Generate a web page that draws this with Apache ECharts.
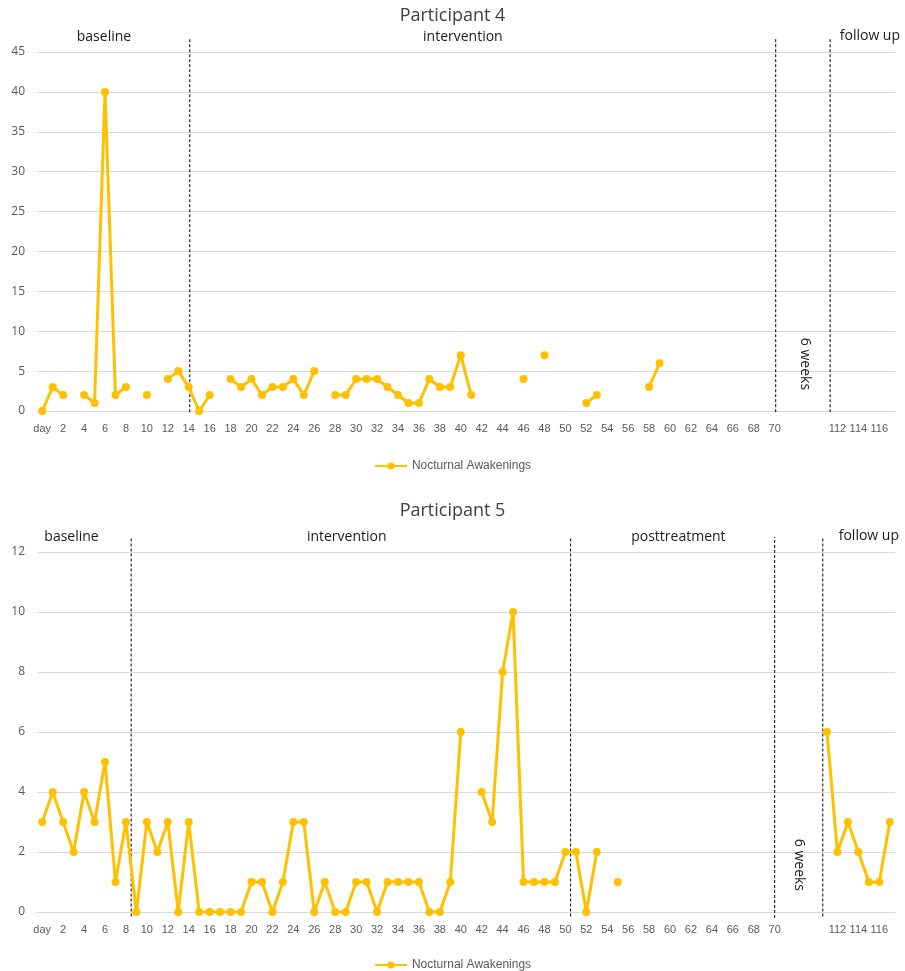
<!DOCTYPE html>
<html><head><meta charset="utf-8">
<script src="https://cdn.jsdelivr.net/npm/echarts@6/dist/echarts.min.js"></script>
<style>html,body{margin:0;padding:0;background:#fff}#c{width:905px;height:971px}</style>
</head><body><div id="c"></div>
<script>
// x categories: "day", days 1..70, four blank slots (6 weeks gap), follow-up days 111..117
const categories = ['day','1','2','3','4','5','6','7','8','9','10','11','12','13','14','15','16','17','18','19','20',
  '21','22','23','24','25','26','27','28','29','30','31','32','33','34','35','36','37','38','39','40',
  '41','42','43','44','45','46','47','48','49','50','51','52','53','54','55','56','57','58','59','60',
  '61','62','63','64','65','66','67','68','69','70','','','','','111','112','113','114','115','116','117'];

const p4Values = [0,3,2,null,2,1,40,2,3,null,2,null,4,5,3,0,2,null,4,3,4,2,3,3,4,2,5,null,2,2,
  4,4,4,3,2,1,1,4,3,3,7,2,null,null,null,null,4,null,7,null,null,null,1,2,null,null,null,null,3,6,
  null,null,null,null,null,null,null,null,null,null,null,null,null,null,null,null,null,null,null,null,null,null];

const p5Values = [3,4,3,2,4,3,5,1,3,0,3,2,3,0,3,0,0,0,0,0,1,1,0,1,3,3,0,1,0,0,
  1,1,0,1,1,1,1,0,0,1,6,null,4,3,8,10,1,1,1,1,2,2,0,2,null,1,
  null,null,null,null,null,null,null,null,null,null,null,null,null,null,null,null,null,null,null,
  6,2,3,2,1,1,3];

const p4YTicks = {min: 0, max: 45, interval: 5};
const p5YTicks = {min: 0, max: 12, interval: 2};

// phase separators (category position) with vertical extent in data units
const p4PhaseLines = [[14.1, -0.15, 46.8], [70.1, -0.15, 46.8], [75.3, -0.15, 46.8]];
const p5PhaseLines = [[8.5, -0.15, 12.5], [50.5, -0.15, 12.5], [70.0, -0.2, 12.5], [74.6, -0.15, 12.5]];

// phase labels: [category position, y value]
const p4LabelPos = [[5.9, 46.9], [40.2, 46.9], [79.1, 47.0], [72.9, 5.9]];
const p4LabelText = ['baseline', 'intervention', 'follow up', '6 weeks'];
const p4LabelRot = [0, 0, 0, -90];
const p5LabelPos = [[2.8, 12.5], [29.1, 12.5], [60.8, 12.5], [79.0, 12.52], [72.3, 1.57]];
const p5LabelText = ['baseline', 'intervention', 'posttreatment', 'follow up', '6 weeks'];
const p5LabelRot = [0, 0, 0, 0, -90];

const LINE_COLOR = '#FFC000';
const SERIES_NAME = 'Nocturnal Awakenings';

function lineRender(params, api) {
  const x = api.value(0);
  const p1 = api.coord([x, api.value(1)]);
  const p2 = api.coord([x, api.value(2)]);
  return {type: 'line', shape: {x1: p1[0], y1: p1[1], x2: p2[0], y2: p2[1]},
    style: {stroke: '#000', lineWidth: 1, lineDash: [3, 2]}};
}
function labelRender(texts, rots) {
  return function (params, api) {
    const p = api.coord([api.value(0), api.value(1)]);
    return {type: 'text', x: p[0], y: p[1], rotation: rots[params.dataIndex] * Math.PI / 180,
      style: {text: texts[params.dataIndex], fill: '#1a1a1a', fontSize: 14, fontFamily: 'Open Sans',
        align: 'center', verticalAlign: 'middle'}};
  };
}

const catAxis = (gi) => ({
  type: 'category', gridIndex: gi, data: categories, boundaryGap: true,
  axisLine: {lineStyle: {color: '#d9d9d9', width: 1}}, axisTick: {show: false},
  axisLabel: {interval: 1, color: '#595959', fontSize: 11, margin: 12, fontFamily: 'Liberation Sans Narrow, Liberation Sans'}
});
const valAxis = (gi, t) => ({
  type: 'value', gridIndex: gi, min: t.min, max: t.max, interval: t.interval,
  axisLine: {show: false}, axisTick: {show: false},
  axisLabel: {color: '#595959', fontSize: 12, margin: 12, fontFamily: 'Open Sans'},
  splitLine: {lineStyle: {color: '#d9d9d9', width: 1}}
});
const posAxis = (gi) => ({type: 'value', gridIndex: gi, min: -0.5, max: 81.5, show: false});

const dataSeries = (gi, vals) => ({
  name: SERIES_NAME, type: 'line', xAxisIndex: gi, yAxisIndex: gi, data: vals,
  connectNulls: false, symbol: 'circle', symbolSize: 8, showSymbol: true, showAllSymbol: true,
  lineStyle: {width: 3, color: LINE_COLOR}, itemStyle: {color: LINE_COLOR}, z: 5
});

const chart = echarts.init(document.getElementById('c'), null, {renderer: 'canvas'});
chart.setOption({
  animation: false,
  backgroundColor: '#fff',
  title: [
    {text: 'Participant 4', left: 'center', top: 2, textStyle: {fontSize: 18, fontWeight: 'normal', color: '#404040', fontFamily: 'Open Sans'}},
    {text: 'Participant 5', left: 'center', top: 497, textStyle: {fontSize: 18, fontWeight: 'normal', color: '#404040', fontFamily: 'Open Sans'}}
  ],
  legend: [
    {data: [SERIES_NAME], top: 455, left: 'center', itemWidth: 32, itemHeight: 9, textStyle: {color: '#595959', fontSize: 12, fontFamily: 'Liberation Sans Narrow, Liberation Sans'}},
    {data: [SERIES_NAME], top: 954, left: 'center', itemWidth: 32, itemHeight: 9, textStyle: {color: '#595959', fontSize: 12, fontFamily: 'Liberation Sans Narrow, Liberation Sans'}}
  ],
  grid: [
    {left: 37, right: 10, top: 52, height: 359},
    {left: 37, right: 10, top: 552, height: 360}
  ],
  xAxis: [catAxis(0), catAxis(1), posAxis(0), posAxis(1)],
  yAxis: [valAxis(0, p4YTicks), valAxis(1, p5YTicks)],
  series: [
    dataSeries(0, p4Values),
    dataSeries(1, p5Values),
    {type: 'custom', xAxisIndex: 2, yAxisIndex: 0, data: p4PhaseLines, encode: {x: 0, y: [1, 2]}, renderItem: lineRender, silent: true, z: 3},
    {type: 'custom', xAxisIndex: 3, yAxisIndex: 1, data: p5PhaseLines, encode: {x: 0, y: [1, 2]}, renderItem: lineRender, silent: true, z: 3},
    {type: 'custom', xAxisIndex: 2, yAxisIndex: 0, data: p4LabelPos, encode: {x: 0, y: 1}, renderItem: labelRender(p4LabelText, p4LabelRot), silent: true, z: 4},
    {type: 'custom', xAxisIndex: 3, yAxisIndex: 1, data: p5LabelPos, encode: {x: 0, y: 1}, renderItem: labelRender(p5LabelText, p5LabelRot), silent: true, z: 4}
  ]
});
</script></body></html>
